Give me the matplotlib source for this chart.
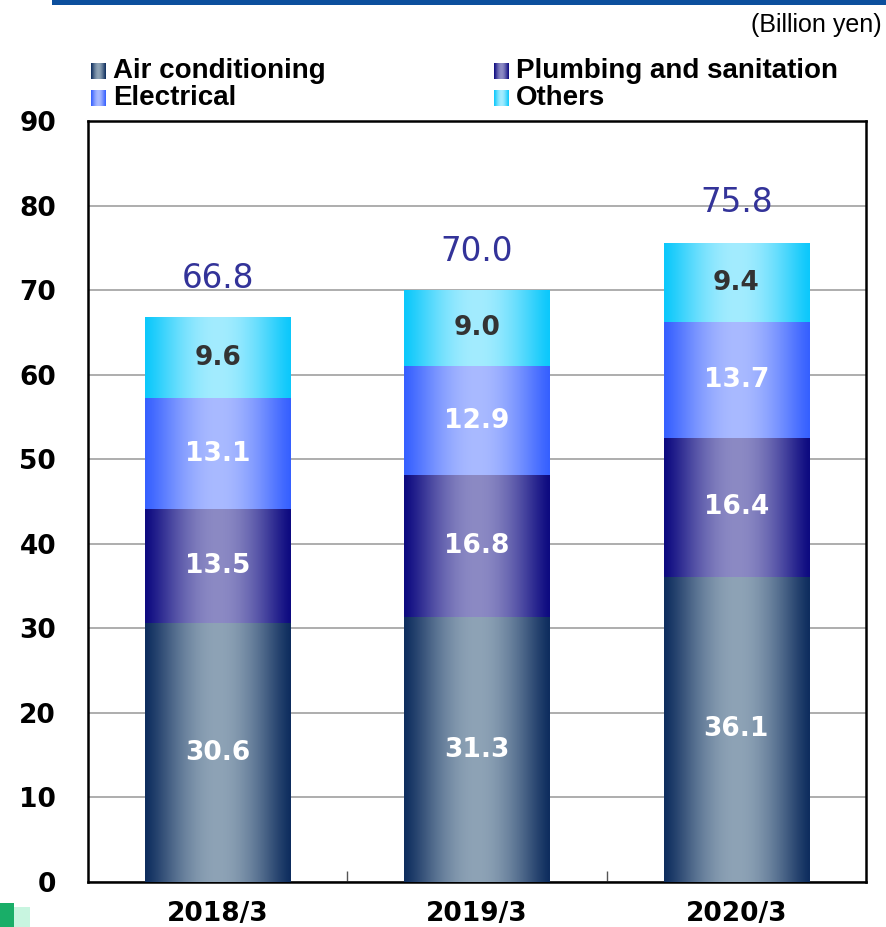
import matplotlib
matplotlib.use("Agg")
import matplotlib.pyplot as plt
import numpy as np
from matplotlib.colors import LinearSegmentedColormap
from matplotlib.patches import Rectangle

categories = ["2018/3", "2019/3", "2020/3"]
series_names = ["Air conditioning", "Plumbing and sanitation", "Electrical", "Others"]
air = [30.6, 31.3, 36.1]
plumbing = [13.5, 16.8, 16.4]
electrical = [13.1, 12.9, 13.7]
others = [9.6, 9.0, 9.4]
totals = [66.8, 70.0, 75.8]
yticks = [0, 10, 20, 30, 40, 50, 60, 70, 80, 90]

series = [air, plumbing, electrical, others]
edge_cols = ["#0e2d5e", "#0d0a80", "#3660ff", "#0cc8fb"]
mid_cols = ["#8ea3b6", "#8c8ac4", "#a9baff", "#a3ecff"]
label_cols = ["white", "white", "white", "#333333"]

DJ = ["DejaVu Sans"]
LB = ["Liberation Sans", "DejaVu Sans"]

fig = plt.figure(figsize=(8.87, 9.27), dpi=100)
ax = fig.add_axes([88/887, 45/927, 778/887, 761/927])

def grad(edge, mid):
    cmap = LinearSegmentedColormap.from_list("g", [edge, mid, edge])
    t = np.linspace(0, 1, 256)
    s = 0.5 - 0.5 * np.cos(np.pi * 2 * t)
    s = s ** 0.6
    pos = np.where(t < 0.5, s * 0.5, 1 - s * 0.5)
    return cmap(pos)[None, :, :]

x = np.arange(len(categories))
width = 0.56
bottom = np.zeros(len(categories))
for vals, ec, mc, lc in zip(series, edge_cols, mid_cols, label_cols):
    bars = ax.bar(x, vals, width, bottom=bottom, color=mc, edgecolor="none", zorder=2)
    img = grad(ec, mc)
    for b, v, bt in zip(bars, vals, bottom):
        x0, y0 = b.get_x(), b.get_y()
        im = ax.imshow(img, extent=[x0, x0 + b.get_width(), y0, y0 + b.get_height()],
                       aspect="auto", zorder=3, interpolation="bilinear")
        im.set_clip_path(b)
        ax.text(b.get_x() + b.get_width()/2, bt + v/2, f"{v:.1f}", ha="center", va="center",
                color=lc, fontsize=19, fontweight="bold", family=DJ, zorder=4)
    bottom = bottom + np.array(vals)

for xi, t in zip(x, totals):
    ax.annotate(f"{t:.1f}", (xi, t), xytext=(0, 16), textcoords="offset points",
                ha="center", va="bottom", color="#333399", fontsize=23.5, family=DJ)

ax.set_xlim(-0.5, 2.5)
ax.set_ylim(0, 90)
ax.set_yticks(yticks)
ax.set_yticklabels([str(v) for v in yticks], fontsize=19, fontweight="bold", family=DJ)
ax.tick_params(axis="y", length=0, pad=23)
ax.set_xticks(x)
ax.set_xticklabels(categories, fontsize=19, fontweight="bold", family=DJ)
ax.tick_params(axis="x", length=0, pad=14)
ax.set_xticks([0.5, 1.5], minor=True)
ax.tick_params(axis="x", which="minor", direction="in", length=8, width=1, color="#555555")
ax.yaxis.grid(True, color="#a0a0a0", linewidth=1.2, zorder=0)
ax.set_axisbelow(True)
for s in ax.spines.values():
    s.set_linewidth(1.8)
    s.set_color("black")

fig.add_artist(Rectangle((52/887, 1 - 5/927), 835/887, 5/927, transform=fig.transFigure,
                         color="#0c4f9d", lw=0))
fig.add_artist(Rectangle((14/887, 0), 16/887, 20/927, transform=fig.transFigure, color="#c8f5e0", lw=0))
fig.add_artist(Rectangle((0, 0), 14/887, 24/927, transform=fig.transFigure, color="#19ae68", lw=0))

fig.text(882/887, 1 - 25/927, "(Billion yen)", ha="right", va="center", fontsize=18, family=LB)

leg_pos = [(91, 71), (494, 71), (91, 98), (494, 98)]
for i, (px, py) in enumerate(leg_pos):
    lax = fig.add_axes([px/887, 1 - (py + 8)/927, 15/887, 16/927])
    lax.imshow(grad(edge_cols[i], mid_cols[i]), aspect="auto", interpolation="bilinear")
    lax.axis("off")
    fig.text((px + 22)/887, 1 - py/927, series_names[i], ha="left", va="center",
             fontsize=20, fontweight="bold", family=LB)

fig.savefig("out.png", dpi=100)
